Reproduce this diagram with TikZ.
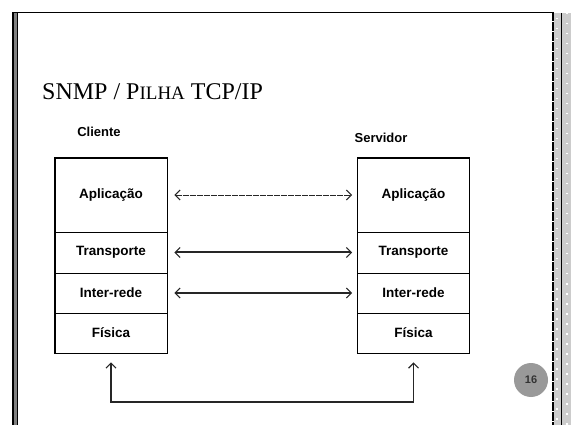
\documentclass[tikz,border=0pt]{standalone}
\usepackage{fontspec}
\setmainfont{Liberation Serif}
\setsansfont{Liberation Sans}
\usetikzlibrary{arrows.meta}
\begin{document}
\begin{tikzpicture}[x=1pt,y=-1pt,
  layer/.style={draw=black,line width=0.6pt,minimum width=112pt,inner sep=0,font=\sffamily\bfseries\fontsize{13.5}{15}\selectfont},
  side/.style={font=\sffamily\bfseries\fontsize{13}{15}\selectfont},
  peer/.style={{Straight Barb[length=5pt,width=10pt,line width=1.2pt]}-{Straight Barb[length=5pt,width=10pt,line width=1.2pt]},black!85}]
  \useasboundingbox (0,0) rectangle (571,425);
  % slide frame
  \fill[black] (12,12) rectangle (14,425);
  \fill[gray] (14,12) rectangle (16.5,425);
  \fill[black] (16.5,12) rectangle (18,425);
  \draw[line width=1.4pt] (12,12.7) -- (553,12.7);
  \fill[black!20] (554,13) rectangle (571,425);
  \draw[line width=2pt,dash pattern=on 9pt off 1pt] (553,12) -- (553,425);
  \draw[line width=0.8pt] (561,13) -- (561,425);
  \foreach \i in {0,...,41}{
    \fill[white] (556,18+\i*10) rectangle ++(1.5,1.5);
    \fill[white] (566,13+\i*10) rectangle ++(1.5,1.5);
  }
  \node [anchor=base west,inner sep=0,font=\fontsize{24}{28}\selectfont] (title) at (42,100) {SNMP / P{\fontsize{19}{22}\selectfont ILHA} TCP/IP};
  \node [side] (cli) at (99,132) {Cliente};
  \node [side] (srv) at (381,138) {Servidor};
  % the two stacks
  \foreach \s/\x in {c/111,s/413.5}{
    \node [layer,minimum height=74pt] (\s apl) at (\x,195) {Aplicação};
    \node [layer,minimum height=41pt] (\s tra) at (\x,252.5) {Transporte};
    \node [layer,minimum height=40pt] (\s int) at (\x,293) {Inter-rede};
    \node [layer,minimum height=40pt] (\s fis) at (\x,333) {Física};
    \draw[line width=1.3pt] (\s apl.north west) rectangle (\s fis.south east);
    \draw[line width=1.3pt] (\s tra.south west) -- (\s tra.south east);
  }
  \draw[peer,line width=0.8pt,dash pattern=on 6pt off 1pt] ([xshift=7pt]capl.east) -- ([xshift=-5pt]sapl.west);
  \draw[peer,line width=2pt] ([xshift=7pt]ctra.east) -- ([xshift=-5pt]stra.west);
  \draw[peer,line width=1.1pt] ([xshift=7pt]cint.east) -- ([xshift=-5pt]sint.west);
  \coordinate (bus) at (262,402);
  \draw[peer,line width=1.2pt] ([yshift=-9pt]cfis.south) |- (bus) -| ([yshift=-9pt]sfis.south);
  \node [circle,fill=black!40,minimum size=34pt,inner sep=0,text=black!80,font=\sffamily\bfseries\fontsize{11}{12}\selectfont] (pg) at (531,380) {16};
\end{tikzpicture}
\end{document}
